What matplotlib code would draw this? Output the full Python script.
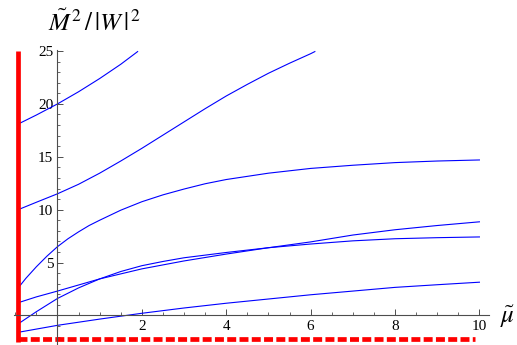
import matplotlib
matplotlib.use("Agg")
import matplotlib.pyplot as plt
from matplotlib.ticker import FixedLocator, NullFormatter

plt.rcParams["mathtext.fontset"] = "stix"
plt.rcParams["font.family"] = "Liberation Serif"

# branches (mu, M^2/|W|^2)
mu_1 = [-0.93, -0.5, 0, 0.5, 1, 1.5, 1.9]
m_1 = [18.1, 18.95, 20.0, 21.15, 22.4, 23.75, 24.95]

mu_2 = [-0.93, -0.5, 0, 0.5, 1, 1.5, 2, 2.5, 3, 3.5, 4, 4.5, 5, 5.5, 6, 6.1]
m_2 = [10.0, 10.7, 11.5, 12.4, 13.45, 14.6, 15.8, 17.05, 18.3, 19.55, 20.75, 21.85, 22.9, 23.85, 24.75, 24.95]

mu_3 = [-0.93, -0.75, -0.5, -0.25, 0, 0.25, 0.5, 0.75, 1, 1.5, 2, 2.5, 3, 3.5, 4, 5, 6, 7, 8, 9, 10]
m_3 = [2.6, 3.5, 4.6, 5.6, 6.5, 7.25, 7.9, 8.5, 9.0, 9.95, 10.75, 11.4, 11.95, 12.45, 12.85,
       13.45, 13.9, 14.2, 14.45, 14.6, 14.7]

mu_4 = [-0.93, -0.5, 0, 1, 2, 3, 4, 5, 6, 7, 8, 9, 10]
m_4 = [1.2, 1.75, 2.3, 3.45, 4.4, 5.15, 5.8, 6.4, 6.95, 7.6, 8.1, 8.5, 8.85]

mu_5 = [-0.93, -0.5, 0, 0.5, 1, 1.5, 2, 2.5, 3, 4, 5, 6, 7, 8, 9, 10]
m_5 = [-0.8, 0.35, 1.6, 2.6, 3.45, 4.15, 4.7, 5.1, 5.45, 5.95, 6.4, 6.75, 7.05, 7.25, 7.35, 7.42]

mu_6 = [-0.93, 0, 1, 2, 3, 4, 5, 6, 7, 8, 9, 10]
m_6 = [-1.6, -0.94, -0.35, 0.2, 0.7, 1.15, 1.55, 1.95, 2.3, 2.65, 2.9, 3.14]

branches = [(mu_1, m_1), (mu_2, m_2), (mu_3, m_3), (mu_4, m_4), (mu_5, m_5), (mu_6, m_6)]

# red boundary lines
wall_mu = -0.93
floor_m = -2.25
wall_top = 25.0
floor_end = 9.9

x_major = [2, 4, 6, 8, 10]
y_major = [5, 10, 15, 20, 25]

fig = plt.figure(figsize=(5.17, 3.45), dpi=100)
ax = fig.add_axes([14 / 517, 0, (488.7 - 14) / 517, (345 - 50) / 345])
ax.set_xlim(-1.03, 10.22)
ax.set_ylim(-2.8, 25.1)

for mu, m in branches:
    ax.plot(mu, m, color="#0000ff", lw=0.8)

ax.plot([wall_mu, wall_mu], [floor_m - 0.22, wall_top], color="red", lw=3.4,
        solid_capstyle="butt", clip_on=False)
ax.plot([wall_mu, floor_end], [floor_m, floor_m], color="red", lw=3.4,
        linestyle=(0, (1.9, 0.7)), clip_on=False)

# mathematica style axes through the origin
for side in ["top", "right"]:
    ax.spines[side].set_visible(False)
ax.spines["left"].set_position(("data", 0))
ax.spines["bottom"].set_position(("data", 0))
for side in ["left", "bottom"]:
    ax.spines[side].set_color("0.3")
    ax.spines[side].set_linewidth(0.8)

ax.xaxis.set_major_locator(FixedLocator(x_major))
ax.yaxis.set_major_locator(FixedLocator(y_major))
ax.xaxis.set_minor_locator(FixedLocator([i * 0.5 for i in range(-2, 21)]))
ax.yaxis.set_minor_locator(FixedLocator(list(range(-2, 26))))
ax.xaxis.set_minor_formatter(NullFormatter())
ax.yaxis.set_minor_formatter(NullFormatter())
ax.tick_params(which="major", direction="in", length=4.5, width=0.7, color="0.3",
               labelsize=11, pad=3)
ax.tick_params(which="minor", direction="in", length=2.5, width=0.6, color="0.3")
ax.set_xticklabels([str(v) for v in x_major])
ax.set_yticklabels([str(v) for v in y_major])

fig.text(95 / 517, 1 - 23 / 345, r"$\tilde{M}^{\,2}\,/\,|W\,|^{\,2}$", fontsize=18,
         ha="center", va="center")
fig.text(508 / 517, 1 - 317 / 345, r"$\tilde{\mu}$", fontsize=18,
         ha="center", va="center")

fig.savefig("out.png", dpi=100)
